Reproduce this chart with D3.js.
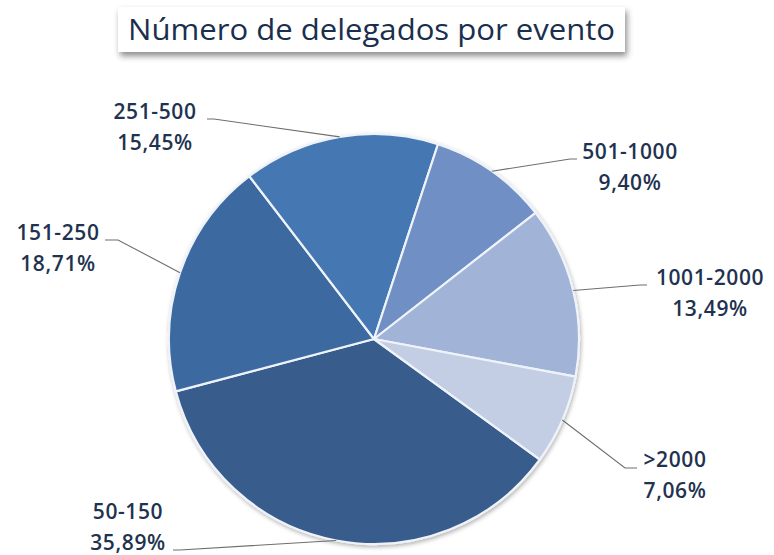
<!DOCTYPE html>
<html>
<head>
<meta charset="utf-8">
<script src="https://cdn.jsdelivr.net/npm/d3@7"></script>
<style>
  body { margin: 0; background: #fff; }
  svg { display: block; }
</style>
</head>
<body>
<div id="chart"></div>
<script>
// data
var categories = ["50-150", "151-250", "251-500", "501-1000", "1001-2000", ">2000"];
var shares = [35.89, 18.71, 15.45, 9.40, 13.49, 7.06];
var shareLabels = ["35,89%", "18,71%", "15,45%", "9,40%", "13,49%", "7,06%"];
var colors = ["#385b8c", "#3d69a1", "#4577b3", "#6f8fc4", "#a1b3d6", "#c3cde3"];

var width = 774, height = 555;
var cx = 374, cy = 339, radius = 205;

// where each label sits (text centre x, first baseline) and where its leader line ends
var labelLayout = {
    "50-150":    { x: 128, y: 519, lx: [173, 180], ly: [550, 550] },
    "151-250":   { x: 58,  y: 240, lx: [105, 118], ly: [240, 240] },
    "251-500":   { x: 155, y: 119, lx: [207, 214], ly: [119, 119] },
    "501-1000":  { x: 630, y: 159, lx: [577, 570], ly: [159, 159] },
    "1001-2000": { x: 710, y: 285, lx: [647, 640], ly: [285, 285] },
    ">2000":     { x: 675, y: 467, lx: [637, 625], ly: [468, 468] }
};

var svg = d3.select("#chart").append("svg")
    .attr("width", width)
    .attr("height", height);

var defs = svg.append("defs");
var sh = defs.append("filter").attr("id", "shadow")
    .attr("x", "-10%").attr("y", "-20%").attr("width", "130%").attr("height", "160%");
sh.append("feDropShadow")
    .attr("dx", 2).attr("dy", 4).attr("stdDeviation", 3)
    .attr("flood-color", "#000").attr("flood-opacity", 0.45);

var pieShadow = defs.append("filter").attr("id", "pieShadow")
    .attr("x", "-10%").attr("y", "-10%").attr("width", "120%").attr("height", "120%");
pieShadow.append("feDropShadow")
    .attr("dx", 1).attr("dy", 2).attr("stdDeviation", 2)
    .attr("flood-color", "#000").attr("flood-opacity", 0.3);

// Title box
svg.append("rect")
    .attr("x", 118).attr("y", 7)
    .attr("width", 507).attr("height", 45)
    .attr("fill", "#fff")
    .attr("filter", "url(#shadow)");

svg.append("text")
    .attr("x", 128)
    .attr("y", 40)
    .attr("textLength", 487)
    .attr("lengthAdjust", "spacingAndGlyphs")
    .style("font-family", "'Open Sans', 'Noto Sans', sans-serif")
    .style("font-size", "30px")
    .style("font-weight", "500")
    .style("fill", "#1a2f4d")
    .text("Número de delegados por evento");

var data = categories.map(function(c, i) {
    return { cat: c, value: shares[i], label: shareLabels[i], color: colors[i] };
});

var startDeg = 126;
var pie = d3.pie()
    .sort(null)
    .value(function(d) { return d.value; })
    .startAngle(startDeg * Math.PI / 180)
    .endAngle((startDeg + 360) * Math.PI / 180);

var arc = d3.arc().innerRadius(0).outerRadius(radius);

var g = svg.append("g")
    .attr("transform", "translate(" + cx + "," + cy + ")");

var arcs = pie(data);

g.append("g")
    .attr("filter", "url(#pieShadow)")
    .selectAll("path")
    .data(arcs)
    .enter().append("path")
    .attr("d", arc)
    .attr("fill", function(d) { return d.data.color; })
    .attr("stroke", "#eef3fa")
    .attr("stroke-width", 2.2)
    .attr("stroke-linejoin", "round");

// Leader lines
arcs.forEach(function(d) {
    var lay = labelLayout[d.data.cat];
    var mid = (d.startAngle + d.endAngle) / 2;
    var ex = cx + radius * Math.sin(mid);
    var ey = cy - radius * Math.cos(mid);
    var pts = [[lay.lx[0], lay.ly[0]], [lay.lx[1], lay.ly[1]], [ex, ey]];
    svg.append("path")
        .attr("d", d3.line()(pts))
        .attr("fill", "none")
        .attr("stroke", "#6e6e6e")
        .attr("stroke-width", 1.1);
});

// Labels
var labels = svg.append("g")
    .style("font-family", "'Open Sans', 'Noto Sans', sans-serif")
    .style("font-size", "21px")
    .style("font-weight", "600")
    .style("fill", "#1f3350")
    .attr("text-anchor", "middle");

arcs.forEach(function(d) {
    var lay = labelLayout[d.data.cat];
    labels.append("text")
        .attr("x", lay.x)
        .attr("y", lay.y)
        .style("letter-spacing", "0.6px")
        .text(d.data.cat);
    labels.append("text")
        .attr("x", lay.x)
        .attr("y", lay.y + 31)
        .style("letter-spacing", "0.6px")
        .text(d.data.label);
});
</script>
</body>
</html>
